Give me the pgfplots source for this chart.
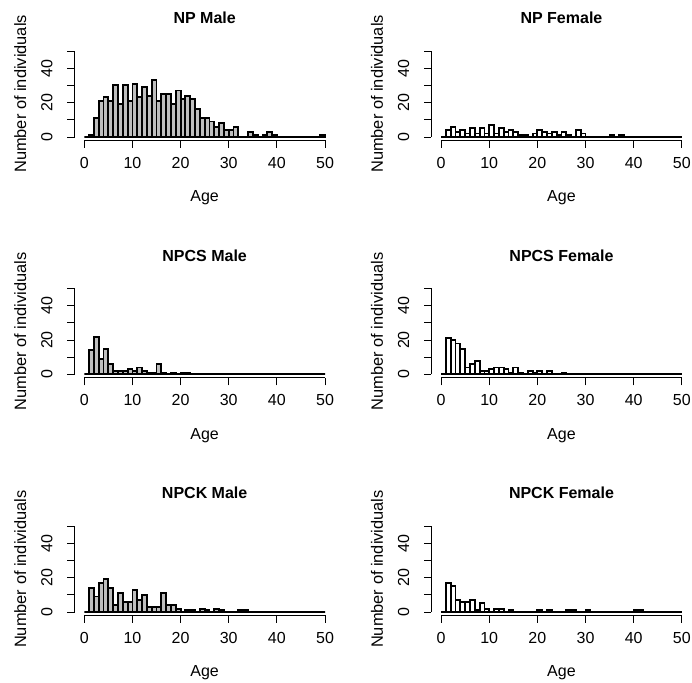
\documentclass[border=0pt]{standalone}
\usepackage{fontspec}
\setmainfont{Liberation Sans}
\usepackage{pgfplots}
\pgfplotsset{compat=1.18}
\pgfplotsset{
 hp/.style={
  scale only axis, width=195pt, height=69.7pt,
  xmin=-2, xmax=52, ymin=-2, ymax=52,
  anchor=south west, clip=false,
  axis lines*=left, axis line style={draw=none},
  tick align=outside, major tick length=5.6pt,
  tick style={black, line width=0.6pt},
  xtick={0,10,...,50}, ytick={0,10,...,50},
  yticklabels={0,,20,,40,},
  /pgf/number format/assume math mode=true,
  ticklabel style={font=\fontsize{12}{14}\selectfont},
  xticklabel style={yshift=-3.5pt},
  yticklabel style={rotate=90, anchor=south},
  yticklabel shift=7.5pt,
  title style={at={(axis description cs:0.5,1)}, anchor=center, yshift=16pt, font=\fontsize{12}{14}\selectfont\bfseries},
  xlabel={Age}, ylabel={Number of individuals},
  xlabel style={at={(axis description cs:0.5,0)}, anchor=center, yshift=-43pt, font=\fontsize{12}{14}\selectfont},
  ylabel style={at={([xshift=-40.8pt]axis description cs:0,0.5)}, anchor=center, font=\fontsize{12.3}{14}\selectfont},
 }
}
\newcommand\panel[5]{%
\begin{axis}[hp, at={(#1,#2)}, title={#3}]
\addplot[ybar interval, draw=black, fill=#4, line width=1.4pt] coordinates {#5};
\draw[line width=0.6pt] (axis cs:0,-2) -- (axis cs:50,-2);
\draw[line width=0.6pt] (axis cs:-2,0) -- (axis cs:-2,50);
\end{axis}}
\definecolor{rgray}{HTML}{BEBEBE}
\begin{document}
\begin{tikzpicture}
\path[use as bounding box] (0,0) rectangle (519pt,-511.5pt);
\panel{56.0pt}{-105.3pt}{NP Male}{rgray}{(0,0)(1,1)(2,11)(3,21)(4,23)(5,21)(6,30)(7,19)(8,30)(9,21)(10,31)(11,23)(12,29)(13,24)(14,33)(15,21)(16,25)(17,25)(18,19)(19,27)(20,22)(21,24)(22,22)(23,16)(24,11)(25,11)(26,9)(27,6)(28,8)(29,4)(30,4)(31,6)(32,0)(33,0)(34,3)(35,1)(36,0)(37,1)(38,3)(39,1)(40,0)(41,0)(42,0)(43,0)(44,0)(45,0)(46,0)(47,0)(48,0)(49,1)(50,1)}
\panel{323.6pt}{-105.3pt}{NP Female}{white}{(0,0)(1,4)(2,6)(3,3)(4,4)(5,2)(6,5)(7,2)(8,5)(9,2)(10,7)(11,2)(12,5)(13,3)(14,4)(15,3)(16,1)(17,1)(18,0)(19,2)(20,4)(21,3)(22,2)(23,3)(24,1)(25,3)(26,1)(27,0)(28,4)(29,2)(30,0)(31,0)(32,0)(33,0)(34,0)(35,1)(36,0)(37,1)(38,0)(39,0)(40,0)(41,0)(42,0)(43,0)(44,0)(45,0)(46,0)(47,0)(48,0)(49,0)(50,0)}
\panel{56.0pt}{-283.4pt}{NPCS Male}{rgray}{(0,0)(1,14)(2,22)(3,9)(4,15)(5,6)(6,2)(7,2)(8,2)(9,3)(10,2)(11,4)(12,2)(13,1)(14,1)(15,6)(16,1)(17,0)(18,1)(19,0)(20,1)(21,1)(22,0)(23,0)(24,0)(25,0)(26,0)(27,0)(28,0)(29,0)(30,0)(31,0)(32,0)(33,0)(34,0)(35,0)(36,0)(37,0)(38,0)(39,0)(40,0)(41,0)(42,0)(43,0)(44,0)(45,0)(46,0)(47,0)(48,0)(49,0)(50,0)}
\panel{323.6pt}{-283.4pt}{NPCS Female}{white}{(0,0)(1,21)(2,20)(3,18)(4,15)(5,4)(6,6)(7,8)(8,2)(9,2)(10,3)(11,4)(12,4)(13,3)(14,1)(15,4)(16,1)(17,0)(18,2)(19,1)(20,2)(21,0)(22,2)(23,0)(24,0)(25,1)(26,0)(27,0)(28,0)(29,0)(30,0)(31,0)(32,0)(33,0)(34,0)(35,0)(36,0)(37,0)(38,0)(39,0)(40,0)(41,0)(42,0)(43,0)(44,0)(45,0)(46,0)(47,0)(48,0)(49,0)(50,0)}
\panel{56.0pt}{-461.6pt}{NPCK Male}{rgray}{(0,0)(1,14)(2,9)(3,17)(4,19)(5,14)(6,4)(7,11)(8,6)(9,6)(10,13)(11,7)(12,10)(13,3)(14,3)(15,3)(16,11)(17,4)(18,4)(19,2)(20,0)(21,1)(22,1)(23,0)(24,2)(25,1)(26,0)(27,2)(28,1)(29,0)(30,0)(31,0)(32,1)(33,1)(34,0)(35,0)(36,0)(37,0)(38,0)(39,0)(40,0)(41,0)(42,0)(43,0)(44,0)(45,0)(46,0)(47,0)(48,0)(49,0)(50,0)}
\panel{323.6pt}{-461.6pt}{NPCK Female}{white}{(0,0)(1,17)(2,15)(3,7)(4,6)(5,6)(6,7)(7,1)(8,5)(9,2)(10,0)(11,2)(12,2)(13,0)(14,1)(15,0)(16,0)(17,0)(18,0)(19,0)(20,1)(21,0)(22,1)(23,0)(24,0)(25,0)(26,1)(27,1)(28,0)(29,0)(30,1)(31,0)(32,0)(33,0)(34,0)(35,0)(36,0)(37,0)(38,0)(39,0)(40,1)(41,1)(42,0)(43,0)(44,0)(45,0)(46,0)(47,0)(48,0)(49,0)(50,0)}
\end{tikzpicture}
\end{document}
